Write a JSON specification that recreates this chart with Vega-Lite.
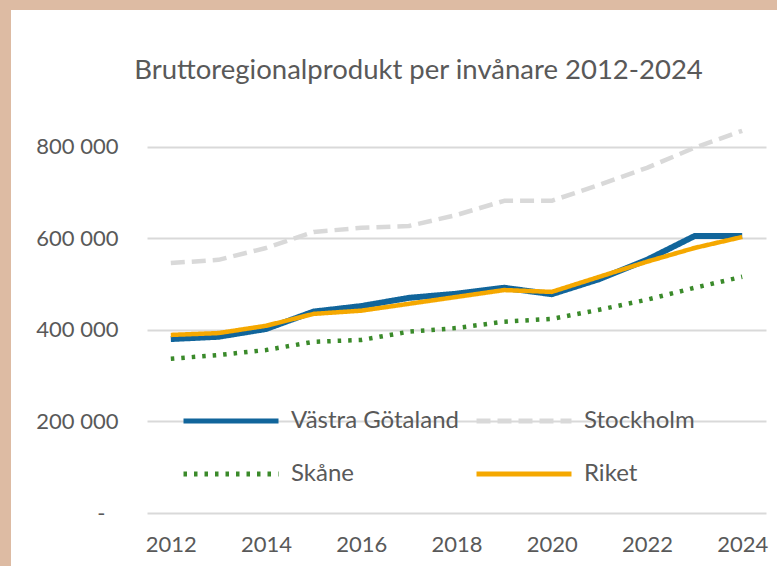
{
  "$schema": "https://vega.github.io/schema/vega-lite/v6.json",
  "padding": 0,
  "background": "#ffffff",
  "config": {
    "font": "Lato",
    "view": {"stroke": null},
    "axis": {"labelFont": "Lato", "labelColor": "#595959"},
    "legend": {"labelFont": "Lato", "labelColor": "#595959"}
  },
  "datasets": {
    "none": [],
    "brp": [
      {"year": 2012, "region": "Stockholm", "value": 546000},
      {"year": 2013, "region": "Stockholm", "value": 553000},
      {"year": 2014, "region": "Stockholm", "value": 579000},
      {"year": 2015, "region": "Stockholm", "value": 614000},
      {"year": 2016, "region": "Stockholm", "value": 623000},
      {"year": 2017, "region": "Stockholm", "value": 627000},
      {"year": 2018, "region": "Stockholm", "value": 651000},
      {"year": 2019, "region": "Stockholm", "value": 682000},
      {"year": 2020, "region": "Stockholm", "value": 682000},
      {"year": 2021, "region": "Stockholm", "value": 717000},
      {"year": 2022, "region": "Stockholm", "value": 754000},
      {"year": 2023, "region": "Stockholm", "value": 798000},
      {"year": 2024, "region": "Stockholm", "value": 835000},
      {"year": 2012, "region": "Skåne", "value": 337000},
      {"year": 2013, "region": "Skåne", "value": 345000},
      {"year": 2014, "region": "Skåne", "value": 356000},
      {"year": 2015, "region": "Skåne", "value": 374000},
      {"year": 2016, "region": "Skåne", "value": 378000},
      {"year": 2017, "region": "Skåne", "value": 396000},
      {"year": 2018, "region": "Skåne", "value": 404000},
      {"year": 2019, "region": "Skåne", "value": 418000},
      {"year": 2020, "region": "Skåne", "value": 424000},
      {"year": 2021, "region": "Skåne", "value": 444000},
      {"year": 2022, "region": "Skåne", "value": 466000},
      {"year": 2023, "region": "Skåne", "value": 492000},
      {"year": 2024, "region": "Skåne", "value": 516000},
      {"year": 2012, "region": "Västra Götaland", "value": 380000},
      {"year": 2013, "region": "Västra Götaland", "value": 385000},
      {"year": 2014, "region": "Västra Götaland", "value": 402000},
      {"year": 2015, "region": "Västra Götaland", "value": 440000},
      {"year": 2016, "region": "Västra Götaland", "value": 452000},
      {"year": 2017, "region": "Västra Götaland", "value": 470000},
      {"year": 2018, "region": "Västra Götaland", "value": 479000},
      {"year": 2019, "region": "Västra Götaland", "value": 492000},
      {"year": 2020, "region": "Västra Götaland", "value": 478000},
      {"year": 2021, "region": "Västra Götaland", "value": 511000},
      {"year": 2022, "region": "Västra Götaland", "value": 553000},
      {"year": 2023, "region": "Västra Götaland", "value": 605000},
      {"year": 2024, "region": "Västra Götaland", "value": 605000},
      {"year": 2012, "region": "Riket", "value": 389000},
      {"year": 2013, "region": "Riket", "value": 393000},
      {"year": 2014, "region": "Riket", "value": 409000},
      {"year": 2015, "region": "Riket", "value": 435000},
      {"year": 2016, "region": "Riket", "value": 442000},
      {"year": 2017, "region": "Riket", "value": 457000},
      {"year": 2018, "region": "Riket", "value": 472000},
      {"year": 2019, "region": "Riket", "value": 487000},
      {"year": 2020, "region": "Riket", "value": 483000},
      {"year": 2021, "region": "Riket", "value": 516000},
      {"year": 2022, "region": "Riket", "value": 549000},
      {"year": 2023, "region": "Riket", "value": 579000},
      {"year": 2024, "region": "Riket", "value": 603000}
    ]
  },
  "bounds": "flush",
  "spacing": 0,
  "vconcat": [
    {
      "data": {"name": "none"},
      "mark": "point",
      "width": 777,
      "height": 10,
      "view": {"fill": "#DDBBA3", "stroke": null}
    },
    {
      "bounds": "flush",
      "spacing": 136,
      "hconcat": [
        {
          "data": {"name": "none"},
          "mark": "point",
          "width": 11,
          "height": 556,
          "view": {"fill": "#DDBBA3", "stroke": null}
        },
        {
          "bounds": "flush",
          "spacing": 90,
          "vconcat": [
            {
              "data": {"name": "none"},
              "mark": "point",
              "width": 1,
              "height": 1
            },
            {
              "width": 619,
              "height": 412,
              "title": {
                "text": "Bruttoregionalprodukt per invånare 2012-2024",
                "font": "Lato",
                "fontSize": 27.5,
                "fontWeight": "normal",
                "color": "#595959",
                "anchor": "middle",
                "dx": -38,
                "offset": 17
              },
              "data": {"name": "brp"},
              "mark": {"type": "line", "strokeJoin": "round"},
              "encoding": {
                "x": {
                  "field": "year",
                  "type": "ordinal",
                  "scale": {"type": "point", "padding": 0.5},
                  "axis": {
                    "title": null,
                    "values": [2012, 2014, 2016, 2018, 2020, 2022, 2024],
                    "labelAngle": 0,
                    "labelFontSize": 22,
                    "labelPadding": 21,
                    "ticks": false,
                    "tickSize": 0,
                    "domain": false,
                    "grid": false
                  }
                },
                "y": {
                  "field": "value",
                  "type": "quantitative",
                  "scale": {"domain": [0, 900000], "nice": false},
                  "axis": {
                    "title": null,
                    "values": [0, 200000, 400000, 600000, 800000],
                    "labelExpr": "datum.value === 0 ? '-' : replace(format(datum.value, ',d'), ',', ' ')",
                    "labelFontSize": 22,
                    "labelPadding": {"condition": {"test": "datum.value === 0", "value": 42}, "value": 29},
                    "ticks": false,
                    "tickSize": 0,
                    "domain": false,
                    "grid": true,
                    "gridColor": "#D9D9D9",
                    "gridWidth": 2
                  }
                },
                "color": {
                  "field": "region",
                  "type": "nominal",
                  "scale": {
                    "domain": ["Västra Götaland", "Skåne", "Stockholm", "Riket"],
                    "range": ["#11659B", "#3A8A2A", "#D9D9D9", "#F5A800"]
                  },
                  "legend": {
                    "title": null,
                    "orient": "none",
                    "legendX": 219,
                    "legendY": 409,
                    "columns": 2,
                    "columnPadding": 7,
                    "rowPadding": 29,
                    "labelOffset": 48,
                    "labelFontSize": 24,
                    "labelLimit": 400,
                    "symbolType": "M-5,0H5",
                    "symbolSize": 361,
                    "symbolStrokeWidth": 5
                  }
                },
                "strokeDash": {
                  "field": "region",
                  "type": "nominal",
                  "scale": {
                    "domain": ["Västra Götaland", "Skåne", "Stockholm", "Riket"],
                    "range": [[1, 0], [3.5, 7], [14, 7], [1, 0]]
                  },
                  "legend": {
                    "title": null,
                    "orient": "none",
                    "legendX": 219,
                    "legendY": 409,
                    "columns": 2,
                    "columnPadding": 7,
                    "rowPadding": 29,
                    "labelOffset": 48,
                    "labelFontSize": 24,
                    "labelLimit": 400,
                    "symbolType": "M-5,0H5",
                    "symbolSize": 361,
                    "symbolStrokeWidth": 5
                  }
                },
                "strokeWidth": {
                  "condition": {"test": "datum.region === 'Västra Götaland'", "value": 6},
                  "value": 4.5
                }
              }
            }
          ]
        }
      ]
    }
  ]
}
